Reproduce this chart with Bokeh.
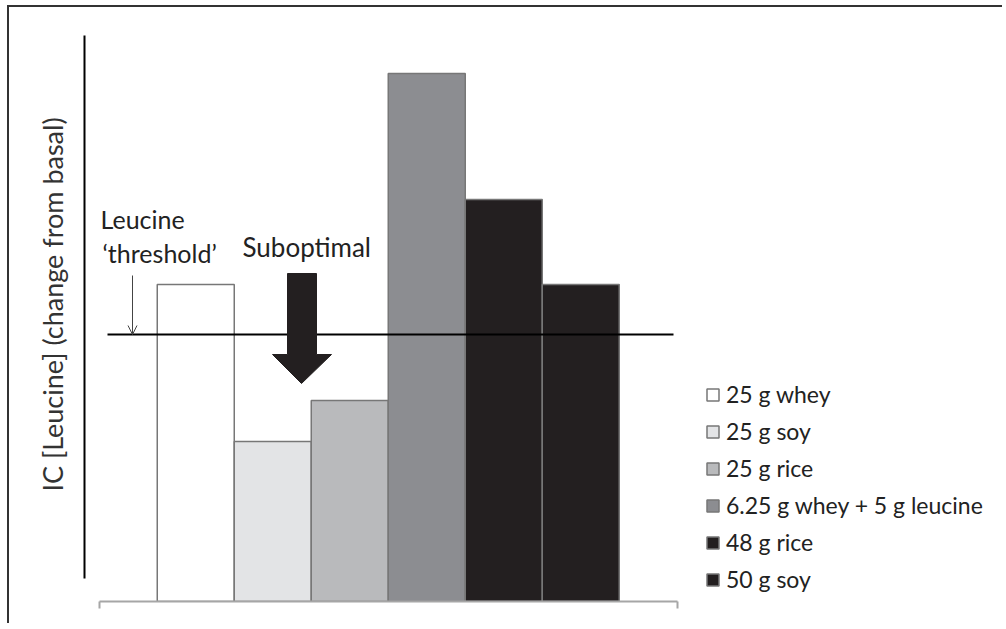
from bokeh.plotting import figure
from bokeh.models import LinearAxis, FixedTicker, Legend, LegendItem, Arrow, OpenHead, Range1d
from bokeh.core.properties import value
from bokeh.embed import file_html
from bokeh.resources import INLINE

# ---- data (arbitrary units) ----
labels = ["25 g whey", "25 g soy", "25 g rice", "6.25 g whey + 5 g leucine", "48 g rice", "50 g soy"]
values = [3.17, 1.60, 2.01, 5.28, 4.02, 3.17]
colors = ["#ffffff", "#e3e4e6", "#b9babc", "#8c8d91", "#231f20", "#231f20"]
threshold = 2.67
ylabel = "IC [Leucine] (change from basal)"
annot_left = ["Leucine", "\u2018threshold\u2019"]
annot_arrow = "Suboptimal"

FONT = "Lato"
OX, OY = 9, 7          # canvas origin on the page (after margin + border)
W, H = 995, 618
ML = 84 - OX
FB = 601 - OY          # frame bottom in canvas px
MB = H - FB
PX_X = 77.0   # px per x unit
PX_Y = 100.0  # px per y unit
x0 = -15 / PX_X
x1 = x0 + (W - ML) / PX_X
y1 = FB / PX_Y

# helpers converting reference page position to data coords (layout only)
def dx(px):
    return (px - 99) / PX_X

def dy(py):
    return (601 - py) / PX_Y

p = figure(width=W, height=H, output_backend="svg", toolbar_location=None,
           x_range=Range1d(x0, x1), y_range=Range1d(0, y1),
           x_axis_type=None, y_axis_type=None,
           min_border_left=ML, min_border_bottom=MB, min_border_top=0, min_border_right=0)
p.outline_line_color = None
p.grid.visible = False
p.background_fill_color = "white"
p.border_fill_color = "white"
p.styles = {"border-left": "2px solid #333333", "border-top": "2px solid #333333",
            "margin-left": "7px", "margin-top": "5px"}

# y axis (no ticks, bounded line)
yax = LinearAxis(ticker=FixedTicker(ticks=[]), bounds=(dy(578), dy(35)),
                 axis_line_color="black", axis_line_width=2,
                 major_tick_line_color=None, minor_tick_line_color=None,
                 major_label_text_font_size="0px",
                 axis_label=ylabel, axis_label_text_font=FONT,
                 axis_label_text_font_size="27px", axis_label_text_font_style="normal",
                 axis_label_text_color="#333333", axis_label_standoff=16)
p.add_layout(yax, "left")

# x axis (gray line with end ticks)
n = len(values)
xax = LinearAxis(ticker=FixedTicker(ticks=[0, n + 1.5]), bounds=(0, n + 1.5),
                 axis_line_color="#a6a6a6", axis_line_width=2,
                 major_tick_line_color="#a6a6a6", major_tick_line_width=2,
                 major_tick_in=0, major_tick_out=7,
                 minor_tick_line_color=None,
                 major_label_text_font_size="0px", major_label_text_color=None)
p.add_layout(xax, "below")

centers = [1.25 + i for i in range(n)]
items = []
for i in range(n):
    r = p.vbar(x=[centers[i]], top=[values[i]], bottom=0, width=1.0,
               fill_color=colors[i], line_color="#777777", line_width=1.5)
    items.append(LegendItem(label=labels[i], renderers=[r]))

# threshold line
p.segment(x0=[dx(107)], y0=[threshold], x1=[dx(673)], y1=[threshold],
          line_color="black", line_width=2)

# thin arrow to threshold
p.add_layout(Arrow(x_start=dx(132), y_start=dy(275), x_end=dx(132), y_end=threshold,
                   line_color="#444444", line_width=1,
                   end=OpenHead(size=9, line_color="#444444", line_width=1)))

# thick "suboptimal" arrow
ax = [287, 316, 316, 331, 301, 272, 287]
ay = [273, 273, 354, 354, 383, 354, 354]
p.patch([dx(v) for v in ax], [dy(v) for v in ay], fill_color="#231f20", line_color="#231f20")

# annotation texts
p.text(x=[dx(100), dx(102)], y=[dy(218), dy(252)], text=annot_left,
       text_font=value(FONT), text_font_size="25px", text_color="#222222",
       text_baseline="alphabetic", text_align="left")
p.text(x=[dx(242)], y=[dy(246)], text=[annot_arrow],
       text_font=value(FONT), text_font_size="26px", text_color="#222222",
       text_baseline="alphabetic", text_align="left")

legend = Legend(items=items, location=(705 - 84, 601 - 593),
                label_text_font=FONT, label_text_font_size="23px", label_text_color="#222222",
                glyph_width=15, glyph_height=15, label_height=24, spacing=9,
                padding=0, margin=0, border_line_color=None, background_fill_alpha=0,
                label_standoff=6)
p.add_layout(legend)

open("out.html", "w").write(file_html(p, INLINE))
